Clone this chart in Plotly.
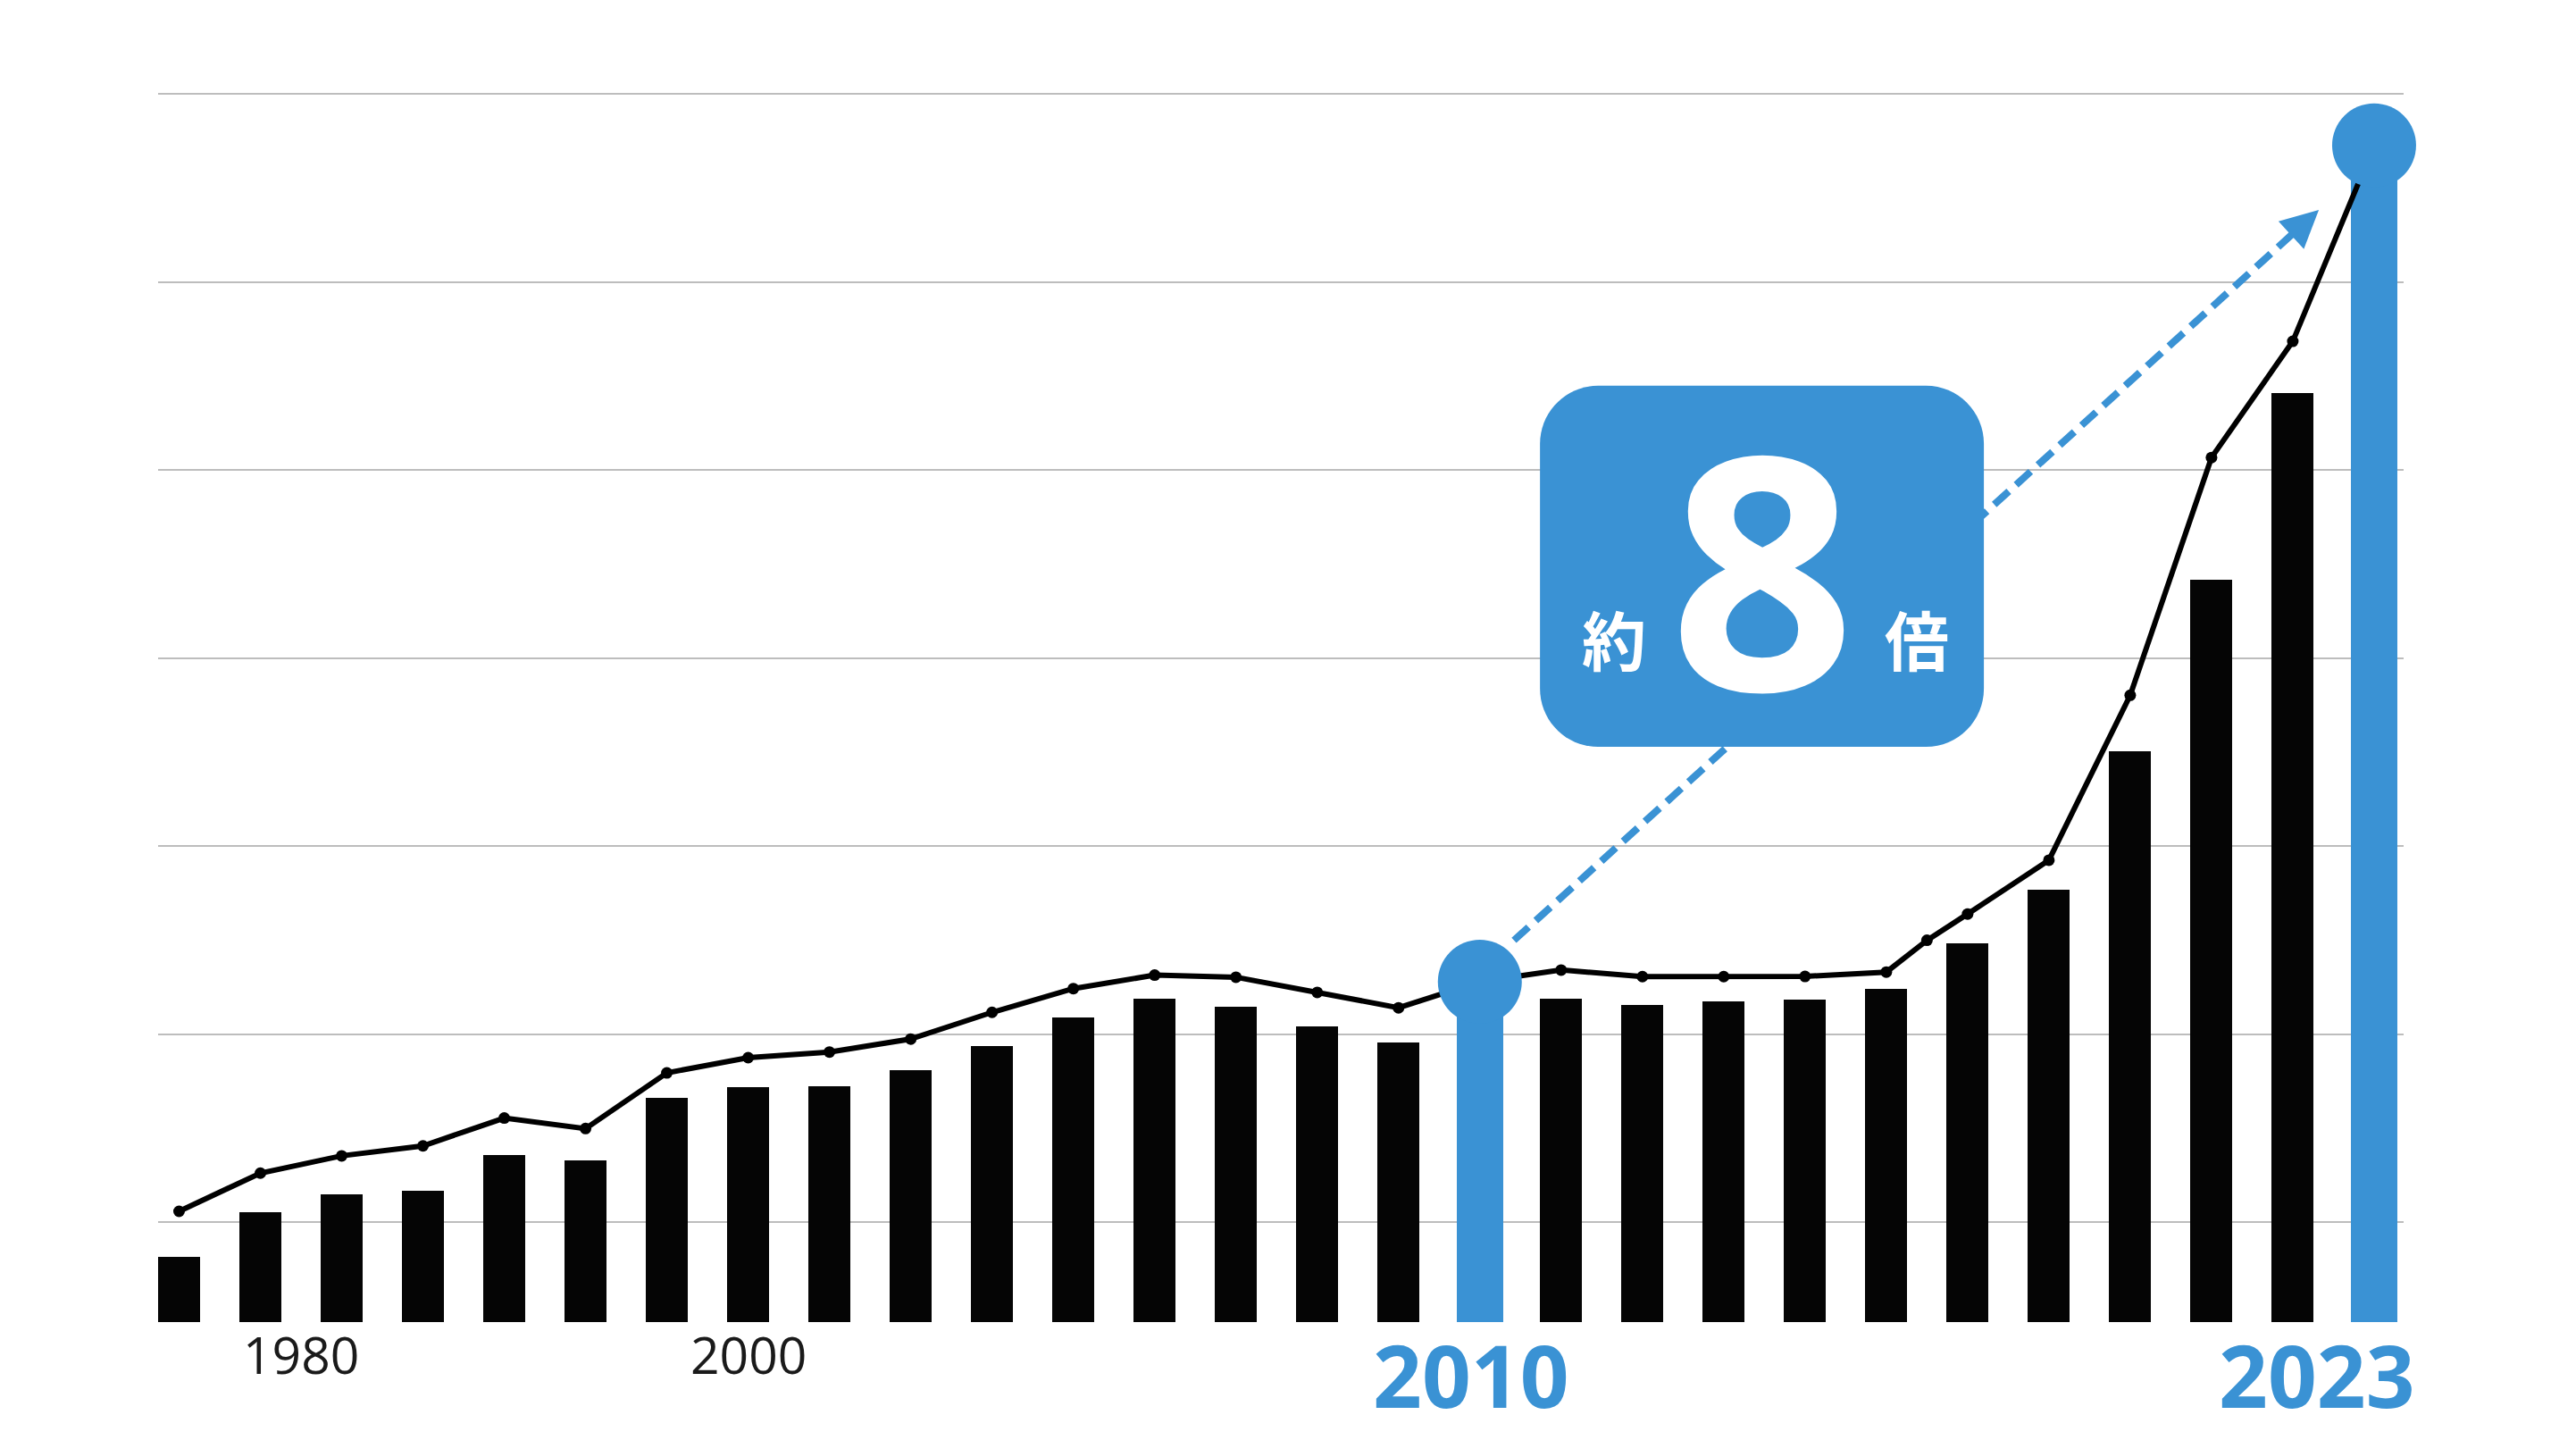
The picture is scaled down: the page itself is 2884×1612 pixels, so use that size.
import numpy as np
import plotly.graph_objects as go

# 棒グラフ（年ごと）
bar_years = [1976, 1979, 1981, 1984, 1987, 1990, 1995,
             2000, 2001, 2002, 2003, 2004, 2005, 2006, 2007, 2008,
             2010, 2011, 2012, 2013, 2014, 2015,
             2017, 2018, 2019, 2020, 2021, 2023]
bar_values = [34.8, 58.6, 67.8, 70.0, 89.0, 85.8, 119.2,
              125.1, 125.4, 133.8, 146.9, 162.0, 172.1, 167.8, 157.2, 148.6,
              181.0, 172.1, 168.5, 170.4, 171.4, 177.1,
              201.4, 229.9, 303.7, 394.5, 494.2, 625.7]

# 折れ線（2016年のみ棒なし）
line_years = [1976, 1979, 1981, 1984, 1987, 1990, 1995,
              2000, 2001, 2002, 2003, 2004, 2005, 2006, 2007, 2008,
              2010, 2011, 2012, 2013, 2014, 2015, 2016,
              2017, 2018, 2019, 2020, 2021, 2023]
line_values = [58.9, 79.2, 88.4, 93.7, 108.5, 102.9, 132.5,
               140.6, 143.6, 150.5, 164.7, 177.3, 184.5, 183.4, 175.3, 167.1,
               181.0, 187.2, 183.7, 183.7, 183.8, 186.1, 203.0,
               217.0, 245.6, 333.3, 459.7, 521.5, 625.7]

highlight_years = [2010, 2023]
axis_label_years = [1980, 2000]
callout_prefix = "約"
callout_number = "8"
callout_suffix = "倍"

BLUE = "#3A92D4"
BLACK = "#050505"

# 位置はリストの並び順から求める
bar_x = np.arange(len(bar_years))
line_x = np.interp(line_years, bar_years, bar_x)
label_x = np.interp(axis_label_years, bar_years, bar_x)
hl_x = [bar_years.index(y) for y in highlight_years]
hl_v = [line_values[line_years.index(y)] for y in highlight_years]

bar_colors = [BLUE if y in highlight_years else BLACK for y in bar_years]
bar_widths = [0.57 if y in highlight_years else 0.516 for y in bar_years]

fig = go.Figure()

fig.add_trace(go.Bar(
    x=bar_x, y=bar_values,
    marker=dict(color=bar_colors, line=dict(width=0)),
    width=bar_widths,
    hoverinfo='skip',
))

fig.add_trace(go.Scatter(
    x=line_x, y=line_values,
    mode='lines+markers',
    line=dict(color='black', width=6),
    marker=dict(color='black', size=13),
    cliponaxis=False,
    hoverinfo='skip',
))

fig.add_trace(go.Scatter(
    x=hl_x, y=hl_v,
    mode='markers',
    marker=dict(color=BLUE, size=94, line=dict(width=0)),
    cliponaxis=False,
    hoverinfo='skip',
))

# 点線の矢印（2010 → 2023）
dash_x0, dash_y0 = hl_x[0] + 0.42, hl_v[0] + 22
dash_x1, dash_y1 = hl_x[1] - 1.0, hl_v[1] - 47
tip_x, tip_y = hl_x[1] - 0.68, hl_v[1] - 34.3

def rounded_rect(x0, y0, x1, y1, rx, ry):
    k = 0.5523
    return (f"M{x0+rx},{y0} L{x1-rx},{y0} "
            f"C{x1-rx+k*rx},{y0} {x1},{y0+ry-k*ry} {x1},{y0+ry} "
            f"L{x1},{y1-ry} "
            f"C{x1},{y1-ry+k*ry} {x1-rx+k*rx},{y1} {x1-rx},{y1} "
            f"L{x0+rx},{y1} "
            f"C{x0+rx-k*rx},{y1} {x0},{y1-ry+k*ry} {x0},{y1-ry} "
            f"L{x0},{y0+ry} "
            f"C{x0},{y0+ry-k*ry} {x0+rx-k*rx},{y0} {x0+rx},{y0} Z")

box_x0, box_x1 = 16.74, 22.20
box_y0, box_y1 = 305.9, 497.9
box_cx = (box_x0 + box_x1) / 2

fig.add_shape(type='line', xref='x', yref='y',
              x0=dash_x0, y0=dash_y0, x1=dash_x1, y1=dash_y1,
              line=dict(color=BLUE, width=8, dash='22px,11px'))
fig.add_shape(type='path', xref='x', yref='y',
              path=rounded_rect(box_x0, box_y0, box_x1, box_y1, 0.714, 30.9),
              fillcolor=BLUE, line=dict(width=0))

annotations = [
    dict(x=tip_x, y=tip_y, ax=dash_x1, ay=dash_y1, axref='x', ayref='y',
         xref='x', yref='y', text='', showarrow=True, arrowhead=2,
         arrowsize=1.05, arrowwidth=8, arrowcolor=BLUE),
    dict(x=box_cx, y=403, xref='x', yref='y', text=f"<b>{callout_number}</b>",
         showarrow=False, font=dict(family='Open Sans', size=364, color='white')),
    dict(x=box_x0 + 0.91, y=364, xref='x', yref='y', text=f"<b>{callout_prefix}</b>",
         showarrow=False, font=dict(family='Noto Sans CJK JP', size=72, color='white')),
    dict(x=box_x1 - 0.83, y=364, xref='x', yref='y', text=f"<b>{callout_suffix}</b>",
         showarrow=False, font=dict(family='Noto Sans CJK JP', size=72, color='white')),
]

for yr, lx in zip(axis_label_years, label_x):
    annotations.append(dict(
        x=lx, y=0, xref='x', yref='paper', yanchor='middle', yshift=-36,
        text=str(yr), showarrow=False,
        font=dict(family='Open Sans', size=57, color='#1a1a1a')))

for yr, hx, shift in zip(highlight_years, hl_x, [-10, -64]):
    annotations.append(dict(
        x=hx, y=0, xref='x', yref='paper', yanchor='middle', yshift=-58,
        xshift=shift, text=f"<b>{yr}</b>", showarrow=False,
        font=dict(family='Open Sans', size=96, color=BLUE)))

fig.update_layout(
    width=2868, height=1596,
    margin=dict(l=169, r=185, t=93, b=124),
    paper_bgcolor='white', plot_bgcolor='white',
    showlegend=False,
    bargap=0,
    xaxis=dict(range=[-0.258, 27.363], visible=False, fixedrange=True),
    yaxis=dict(range=[0, 655], tick0=53, dtick=100, showticklabels=False,
               showgrid=True, gridcolor='#BDBDBD', gridwidth=2,
               zeroline=False, showline=False, fixedrange=True),
    annotations=annotations,
)

fig.write_html("out.html")
